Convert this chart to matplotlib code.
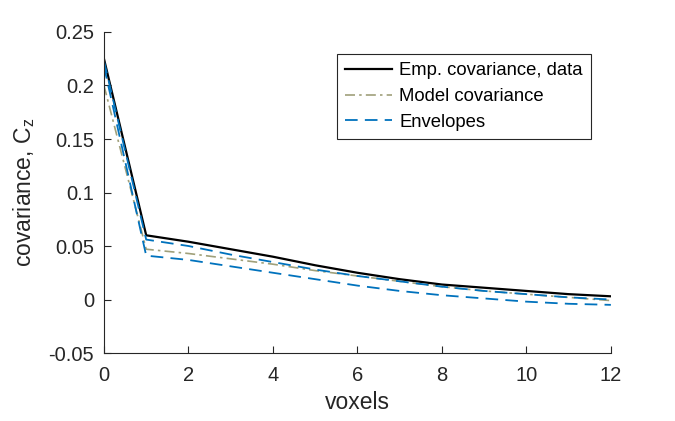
import numpy as np
import matplotlib
matplotlib.use('Agg')
import matplotlib.pyplot as plt

plt.rcParams['font.family'] = ['Liberation Sans', 'DejaVu Sans']
plt.rcParams['mathtext.fontset'] = 'custom'
plt.rcParams['mathtext.rm'] = 'Liberation Sans'

# data
voxels = [0, 1, 2, 3, 4, 5, 6, 7, 8, 9, 10, 11, 12]
emp_cov = [0.225, 0.060, 0.054, 0.047, 0.040, 0.032, 0.025, 0.019, 0.014, 0.011, 0.008, 0.005, 0.003]
model_cov = [0.200, 0.047, 0.043, 0.038, 0.033, 0.027, 0.022, 0.017, 0.012, 0.008, 0.005, 0.002, -0.001]
env_upper = [0.223, 0.056, 0.050, 0.042, 0.035, 0.028, 0.022, 0.017, 0.012, 0.008, 0.005, 0.002, 0.000]
env_lower = [0.218, 0.041, 0.037, 0.031, 0.025, 0.019, 0.013, 0.008, 0.004, 0.001, -0.002, -0.004, -0.005]

xticks = [0, 2, 4, 6, 8, 10, 12]
yticks = [-0.05, 0, 0.05, 0.1, 0.15, 0.2, 0.25]
ytick_labels = ['-0.05', '0', '0.05', '0.1', '0.15', '0.2', '0.25']

txt = '#262626'
blue = '#0072BD'
olive = '#A0A07A'

fig = plt.figure(figsize=(6.75, 4.21), dpi=100)
ax = fig.add_axes([0.154, 0.1615, 0.751, 0.7625])

ax.plot(voxels, emp_cov, color='black', lw=1.6, label='Emp. covariance, data')
ax.plot(voxels, model_cov, color=olive, lw=1.2, ls=(0, (6, 2.5, 1.5, 2.5)), label='Model covariance')
ax.plot(voxels, env_upper, color=blue, lw=1.3, ls=(0, (7, 4)), label='Envelopes')
ax.plot(voxels, env_lower, color=blue, lw=1.3, ls=(0, (7, 4)))

ax.set_xlim(0, 12)
ax.set_ylim(-0.05, 0.25)
ax.set_xticks(xticks)
ax.set_yticks(yticks)
ax.set_yticklabels(ytick_labels)

for s in ['top', 'right']:
    ax.spines[s].set_visible(False)
for s in ['left', 'bottom']:
    ax.spines[s].set_color(txt)
    ax.spines[s].set_linewidth(0.8)
ax.tick_params(direction='in', length=5, width=0.8, colors=txt, labelsize=14.5)
ax.tick_params(axis='x', pad=9)
ax.tick_params(axis='y', pad=7)

ax.set_xlabel('voxels', fontsize=16.5, color=txt, labelpad=5)
ax.set_ylabel('covariance, C$_\\mathregular{z}$', fontsize=16.5, color=txt, labelpad=8)

leg = ax.legend(loc='upper left', bbox_to_anchor=(0.46, 0.931), fontsize=13.3,
                frameon=True, fancybox=False, edgecolor=txt, framealpha=1,
                handlelength=2.5, handletextpad=0.4, borderpad=0.45, labelspacing=0.47,
                borderaxespad=0)
leg.get_frame().set_linewidth(0.8)
for t in leg.get_texts():
    t.set_color('black')

fig.savefig('out.png', dpi=100)
